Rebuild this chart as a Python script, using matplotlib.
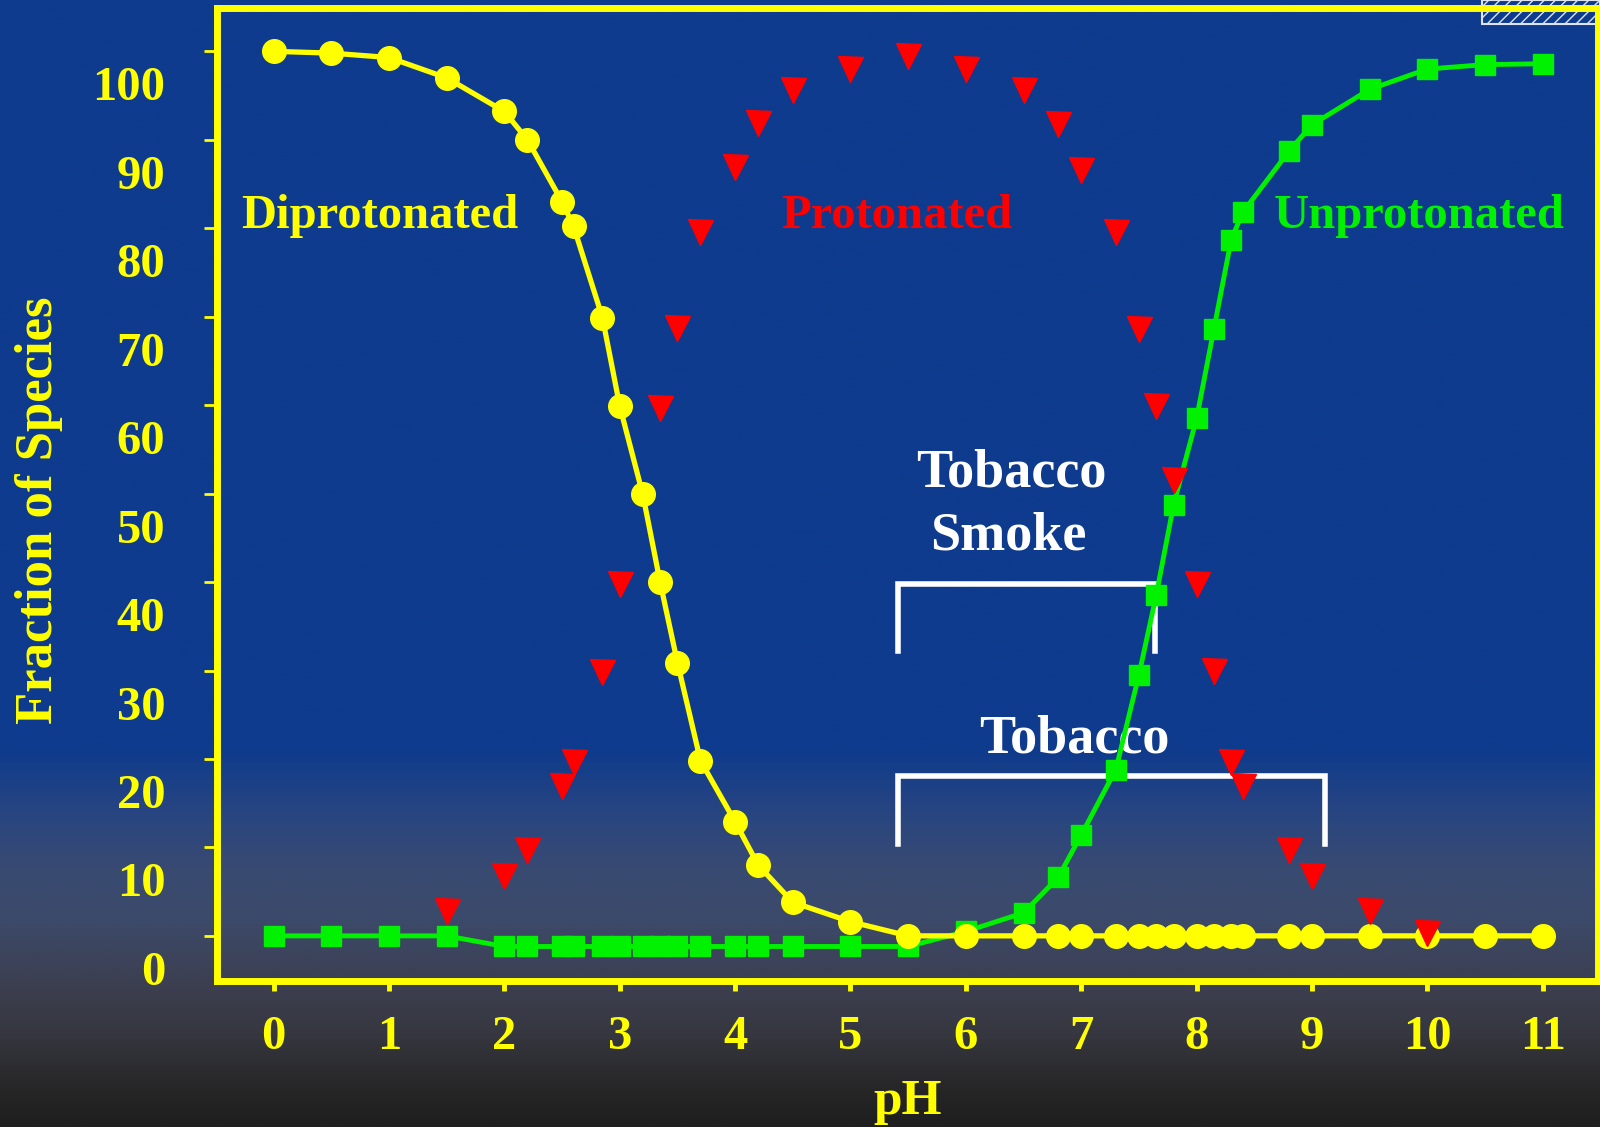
import numpy as np
import matplotlib
matplotlib.use('Agg')
import matplotlib.pyplot as plt
from matplotlib.colors import LinearSegmentedColormap
from matplotlib.patches import Rectangle

# ---------------- data ----------------
ph = [0, 0.5, 1.0, 1.5, 2.0, 2.2, 2.5, 2.6, 2.85, 3.0, 3.2, 3.35, 3.5, 3.7,
      4.0, 4.2, 4.5, 5.0, 5.5, 6.0, 6.5, 6.8, 7.0, 7.3, 7.5, 7.65, 7.8, 8.0,
      8.15, 8.3, 8.4, 8.8, 9.0, 9.5, 10.0, 10.5, 11.0]

diprotonated = [100, 99.8, 99.3, 97.0, 93.2, 90.0, 83.0, 80.2, 69.9, 59.9, 49.9,
                40.0, 30.9, 19.8, 12.9, 8.0, 3.8, 1.6, 0, 0, 0, 0, 0, 0, 0, 0,
                0, 0, 0, 0, 0, 0, 0, 0, 0, 0, 0]

protonated = [np.nan, np.nan, np.nan, 2.8, 6.8, 9.7, 17.0, 19.7, 29.8, 39.8, np.nan,
              59.7, 68.7, 79.6, 86.9, 91.9, 95.6, 98.0, 99.5, 98.0, 95.6, 91.8,
              86.6, 79.6, 68.6, 59.9, 51.5, 39.8, 29.9, 19.7, 17.0, 9.7, 6.8,
              2.8, 0.3, np.nan, np.nan]

unprotonated = [0, 0, 0, 0, -1.2, -1.2, -1.2, -1.2, -1.2, -1.2, -1.2, -1.2, -1.2,
                -1.2, -1.2, -1.2, -1.2, -1.2, -1.2, 0.5, 2.6, 6.6, 11.4, 18.8,
                29.5, 38.5, 48.7, 58.5, 68.6, 78.7, 81.8, 88.7, 91.7, 95.7, 98.0,
                98.5, 98.6]

series_labels = ['Diprotonated', 'Protonated', 'Unprotonated']
yticks = list(range(0, 101, 10))
xticks = list(range(0, 12))
smoke_range = (5.41, 7.64)
tobacco_range = (5.41, 9.11)

# ---------------- style ----------------
YEL = '#ffff00'
RED = '#ff0000'
GRN = '#00f200'
plt.rcParams['font.family'] = ['Liberation Serif', 'DejaVu Serif']
plt.rcParams['font.weight'] = 'bold'

fig = plt.figure(figsize=(16, 11.27), dpi=100)

# background gradient
bg = fig.add_axes([0, 0, 1, 1], zorder=-10)
stops = [(0.0, '#0e3b8d'), (0.665, '#0e3b8d'), (0.727, '#2a4680'),
         (0.772, '#394a72'), (0.816, '#3c4a6a'), (0.876, '#3c3f50'),
         (0.920, '#36373f'), (0.965, '#272729'), (1.0, '#1f1f1f')]
cmap = LinearSegmentedColormap.from_list('bg', stops)
grad = np.linspace(0, 1, 1024).reshape(-1, 1)
bg.imshow(grad, aspect='auto', cmap=cmap, extent=[0, 1, 0, 1], origin='upper',
          interpolation='bilinear')
bg.set_axis_off()

# decorative hatched box at top right
fig.patches.append(Rectangle((1482 / 1600, 1 - 24 / 1127), 118 / 1600, 24 / 1127,
                             transform=fig.transFigure, fill=False,
                             edgecolor='#dde4f0', hatch='///', lw=1.5, zorder=-5))

ax = fig.add_axes([0.1359, 0.1298, 0.8629, 0.8631])
ax.set_facecolor('none')
ax.set_xlim(-0.487, 11.48)
ax.set_ylim(-5.07, 104.9)

for sp in ax.spines.values():
    sp.set_color(YEL)
    sp.set_linewidth(5)

ax.set_xticks(xticks)
ax.set_xticklabels([str(t) for t in xticks])
ax.tick_params(axis='x', direction='out', length=7, width=3.5, color=YEL,
               labelcolor=YEL, labelsize=35, pad=17.5)
ax.set_yticks(yticks)
ax.tick_params(axis='y', direction='out', length=9.5, width=2, color=YEL,
               labelleft=False)
for v in yticks:
    ax.annotate(str(v), xy=(0, v), xycoords=('axes fraction', 'data'),
                xytext=(-52, -37), textcoords='offset pixels', ha='right',
                va='center', color=YEL, fontsize=35, fontweight='bold')

ax.set_xlabel('pH', color=YEL, fontsize=37, fontweight='bold')
ax.xaxis.label.set_va('center')
ax.xaxis.set_label_coords(0.5, -0.1250)
ax.set_ylabel('Fraction of Species', color=YEL, fontsize=38, fontweight='bold')
ax.yaxis.label.set_va('center')
ax.yaxis.label.set_ha('center')
ax.yaxis.set_label_coords(-0.1290, 0.484)

# series
ax.plot(ph, unprotonated, color=GRN, lw=3.5, marker='s', ms=15, zorder=3)
ax.plot(ph, diprotonated, color=YEL, lw=3.8, marker='o', ms=17, zorder=4)
ax.plot(ph, protonated, ls='none', color=RED, marker='v', ms=18, zorder=5)

# series labels
ax.text(0.92, 81.4, series_labels[0], color=YEL, fontsize=35, ha='center',
        va='center', fontweight='bold', zorder=2)
ax.text(5.40, 81.4, series_labels[1], color=RED, fontsize=35, ha='center',
        va='center', fontweight='bold', zorder=2)
ax.text(9.93, 81.4, series_labels[2], color=GRN, fontsize=35, ha='center',
        va='center', fontweight='bold', zorder=2)

# brackets and their labels
ax.plot([smoke_range[0], smoke_range[0], smoke_range[1], smoke_range[1]],
        [32.2, 39.8, 39.8, 32.2], color='white', lw=4, zorder=2,
        solid_joinstyle='miter')
ax.plot([tobacco_range[0], tobacco_range[0], tobacco_range[1], tobacco_range[1]],
        [10.4, 18.1, 18.1, 10.4], color='white', lw=4, zorder=2,
        solid_joinstyle='miter')
ax.text(6.39, 52.3, 'Tobacco', color='white', fontsize=39, ha='center',
        va='center', fontweight='bold', zorder=2)
ax.text(6.37, 45.1, 'Smoke', color='white', fontsize=39, ha='center',
        va='center', fontweight='bold', zorder=2)
ax.text(6.94, 22.2, 'Tobacco', color='white', fontsize=39, ha='center',
        va='center', fontweight='bold', zorder=2)

fig.savefig('out.png', dpi=100)
